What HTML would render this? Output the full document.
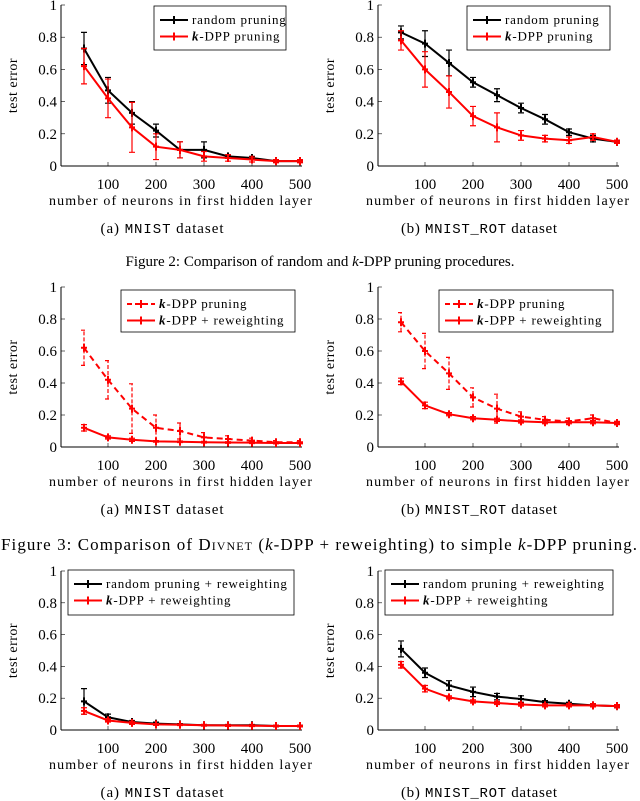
<!DOCTYPE html>
<html><head><meta charset="utf-8"><style>
body{margin:0;background:#fff;}
svg{display:block;font-family:"Liberation Serif",serif;}
.mono{font-family:"Liberation Mono",monospace;}
</style></head><body>
<svg id="fig" width="640" height="801" viewBox="0 0 640 801"></svg>
<script>
const xs=[50,100,150,200,250,300,350,400,450,500];
const yTicks=[0,0.2,0.4,0.6,0.8,1];
const yTickLabels=["0","0.2","0.4","0.6","0.8","1"];
const xTicks=[100,200,300,400,500];
const c1Random=[0.73,0.47,0.33,0.22,0.10,0.10,0.06,0.05,0.03,0.03];
const c1RandomErr=[0.10,0.08,0.07,0.04,0.05,0.05,0.01,0.01,0.005,0.005];
const c1Kdpp=[0.62,0.42,0.24,0.12,0.10,0.06,0.05,0.04,0.03,0.03];
const c1KdppErr=[0.11,0.12,0.155,0.08,0.05,0.03,0.02,0.015,0.01,0.01];
const c2Random=[0.83,0.76,0.64,0.52,0.44,0.36,0.29,0.21,0.17,0.15];
const c2RandomErr=[0.04,0.08,0.08,0.03,0.04,0.03,0.03,0.02,0.02,0.01];
const c2Kdpp=[0.78,0.60,0.46,0.31,0.24,0.19,0.17,0.16,0.18,0.15];
const c2KdppErr=[0.06,0.11,0.10,0.06,0.09,0.03,0.02,0.02,0.02,0.01];
const c3Rw=[0.12,0.06,0.045,0.035,0.033,0.03,0.028,0.027,0.025,0.025];
const c3RwErr=[0.02,0.01,0.01,0.005,0.005,0.005,0.005,0.005,0.005,0.005];
const c4Rw=[0.41,0.26,0.205,0.18,0.17,0.16,0.155,0.155,0.155,0.15];
const c4RwErr=[0.02,0.02,0.01,0.01,0.01,0.01,0.01,0.01,0.01,0.01];
const c5Random=[0.18,0.08,0.05,0.04,0.035,0.03,0.03,0.03,0.025,0.025];
const c5RandomErr=[0.08,0.02,0.01,0.01,0.005,0.005,0.005,0.005,0.005,0.005];
const c6Random=[0.51,0.36,0.28,0.24,0.21,0.195,0.175,0.165,0.155,0.15];
const c6RandomErr=[0.05,0.03,0.03,0.03,0.02,0.02,0.01,0.01,0.01,0.01];

const NS="http://www.w3.org/2000/svg";
const svg=document.getElementById('fig');
function mk(tag,attrs,parent,text){const e=document.createElementNS(NS,tag);for(const k in attrs)e.setAttribute(k,attrs[k]);if(text!==undefined)e.textContent=text;(parent||svg).appendChild(e);return e;}

function chart(name,x0,x500,y0,y1,series,legend,captionLetter,dataset,capLen){
  const g=mk('g',{});
  
  
  const sx=v=>x0+(v/500)*(x500-x0);
  const sy=v=>y0-(v)*(y0-y1);
  const ax=mk('g',{},g);
  
  
  mk('line',{x1:x0+1,y1:y1,x2:x0+1,y2:y0,stroke:'#000','stroke-width':1},ax);
  mk('line',{x1:x0+1,y1:y0,x2:x500+2,y2:y0,stroke:'#000','stroke-width':1},ax);
  yTicks.forEach((t,i)=>{
    mk('line',{x1:x0+1,y1:sy(t),x2:x0+5,y2:sy(t),stroke:'#000','stroke-width':0.6},ax);
    const tl=mk('text',{x:x0-3,y:sy(t)+5,'font-size':15,'text-anchor':'end'},ax,yTickLabels[i]);
    
    
  });
  xTicks.forEach(t=>{
    mk('line',{x1:sx(t),y1:y0,x2:sx(t),y2:y0-4,stroke:'#000','stroke-width':0.6},ax);
    const tl=mk('text',{x:sx(t),y:y0+23,'font-size':15,'text-anchor':'middle'},ax,String(t));
    
    
  });
  const yt=mk('text',{x:0,y:0,'font-size':14,'text-anchor':'middle','letter-spacing':0.5,transform:`translate(${x0-43},${(y0+y1)/2}) rotate(-90)`},ax,'test error');
  
  
  const xt=mk('text',{x:(x0+x500)/2-(x500-x0)/2-11,y:y0+39,'font-size':14,textLength:263,lengthAdjust:'spacing'},ax,'number of neurons in first hidden layer');
  
  
  series.forEach(s=>{
    const sg=mk('g',{},g);
    
    
    xs.forEach((x,i)=>{
      const e=s.err[i],cx=sx(x);
      const eb=mk('path',{d:`M${cx},${sy(s.vals[i]-e)}V${sy(s.vals[i]+e)}M${cx-3},${sy(s.vals[i]-e)}h6M${cx-3},${sy(s.vals[i]+e)}h6`,stroke:s.color,'stroke-width':1.2,fill:'none','stroke-dasharray':s.dash?'4,2':'none'},sg);
      
      
    });
    const pl=mk('polyline',{points:xs.map((x,i)=>sx(x)+','+sy(s.vals[i])).join(' '),fill:'none',stroke:s.color,'stroke-width':2,'stroke-dasharray':s.dash?'6,4':'none'},sg);
    
    
    xs.forEach((x,i)=>{
      const cx=sx(x),cy=sy(s.vals[i]);
      const m=mk('path',{d:`M${cx-3},${cy}h6M${cx},${cy-4}v8`,stroke:s.color,'stroke-width':2},sg);
      
      
    });
  });
  const lg=mk('g',{},g);
  
  
  mk('rect',{x:legend.x,y:legend.y,width:legend.w,height:legend.h,fill:'#fff',stroke:'#000','stroke-width':0.8},lg);
  series.forEach((s,i)=>{
    const ly=legend.y+14+i*16.5;
    const ent=mk('g',{},lg);
    
    
    mk('line',{x1:legend.x+6,y1:ly,x2:legend.x+34,y2:ly,stroke:s.color,'stroke-width':2,'stroke-dasharray':s.dash?'5,3':'none'},ent);
    mk('path',{d:`M${legend.x+17},${ly}h6M${legend.x+20},${ly-4}v8`,stroke:s.color,'stroke-width':2},ent);
    const t=mk('text',{x:legend.x+38,y:ly+4,'font-size':13,'letter-spacing':0.8},ent);
    if(s.label.startsWith('k')){mk('tspan',{'font-style':'italic','font-weight':'bold'},t,'k');mk('tspan',{},t,s.label.slice(1));}
    else t.textContent=s.label;
  });
  const cap=mk('text',{x:(x0+x500)/2-18-capLen/2,y:y0+67,'font-size':15,textLength:capLen,lengthAdjust:'spacing'},g);
  
  
  mk('tspan',{},cap,`(${captionLetter}) `);
  mk('tspan',{class:'mono','font-size':14},cap,dataset);
  mk('tspan',{},cap,' dataset');
}
const R='#ff0000',K='#000000';
chart('chart-fig1a',60,300,166,5,[
 {name:'random-pruning-series',vals:c1Random,err:c1RandomErr,color:K,label:'random pruning'},
 {name:'kdpp-pruning-series',vals:c1Kdpp,err:c1KdppErr,color:R,label:'k-DPP pruning'}],
 {x:154,y:6,w:132,h:44},'a','MNIST',123);
chart('chart-fig1b',377,617,166,5,[
 {name:'random-pruning-series',vals:c2Random,err:c2RandomErr,color:K,label:'random pruning'},
 {name:'kdpp-pruning-series',vals:c2Kdpp,err:c2KdppErr,color:R,label:'k-DPP pruning'}],
 {x:467,y:6,w:143,h:44},'b','MNIST_ROT',156);
chart('chart-fig2a',60,300,447,287,[
 {name:'kdpp-pruning-series',vals:c1Kdpp,err:c1KdppErr,color:R,dash:true,label:'k-DPP pruning'},
 {name:'kdpp-reweighting-series',vals:c3Rw,err:c3RwErr,color:R,label:'k-DPP + reweighting'}],
 {x:121,y:290,w:174,h:42},'a','MNIST',123);
chart('chart-fig2b',377,617,447,287,[
 {name:'kdpp-pruning-series',vals:c2Kdpp,err:c2KdppErr,color:R,dash:true,label:'k-DPP pruning'},
 {name:'kdpp-reweighting-series',vals:c4Rw,err:c4RwErr,color:R,label:'k-DPP + reweighting'}],
 {x:439,y:290,w:174,h:42},'b','MNIST_ROT',156);
chart('chart-fig3a',60,300,730,571,[
 {name:'random-reweighting-series',vals:c5Random,err:c5RandomErr,color:K,label:'random pruning + reweighting'},
 {name:'kdpp-reweighting-series',vals:c3Rw,err:c3RwErr,color:R,label:'k-DPP + reweighting'}],
 {x:68,y:570,w:226,h:45},'a','MNIST',123);
chart('chart-fig3b',377,617,730,571,[
 {name:'random-reweighting-series',vals:c6Random,err:c6RandomErr,color:K,label:'random pruning + reweighting'},
 {name:'kdpp-reweighting-series',vals:c4Rw,err:c4RwErr,color:R,label:'k-DPP + reweighting'}],
 {x:385,y:570,w:228,h:45},'b','MNIST_ROT',156);

const f2=mk('text',{x:320,y:266,'font-size':15,'text-anchor':'middle'});


mk('tspan',{},f2,'Figure 2: Comparison of random and ');mk('tspan',{'font-style':'italic'},f2,'k');mk('tspan',{},f2,'-DPP pruning procedures.');
const f3=mk('text',{x:1,y:550,'font-size':17,textLength:636,lengthAdjust:'spacing'});


mk('tspan',{},f3,'Figure 3: Comparison of ');mk('tspan',{'font-variant':'small-caps'},f3,'Divnet');mk('tspan',{},f3,' (');mk('tspan',{'font-style':'italic'},f3,'k');mk('tspan',{},f3,'-DPP + reweighting) to simple ');mk('tspan',{'font-style':'italic'},f3,'k');mk('tspan',{},f3,'-DPP pruning.');
</script>
</body></html>
